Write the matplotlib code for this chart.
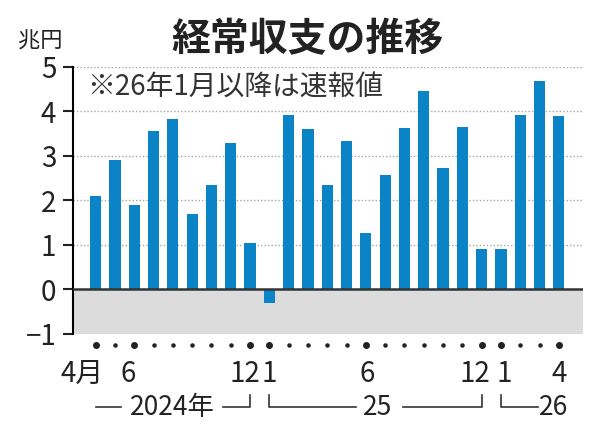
import numpy as np
import matplotlib.pyplot as plt
from matplotlib.transforms import blended_transform_factory

plt.rcParams['font.family'] = ['Noto Sans CJK JP', 'DejaVu Sans']

# monthly current account balance, trillion yen (Apr 2024 - Apr 2026)
years = [2024] * 9 + [2025] * 12 + [2026] * 4
months = list(range(4, 13)) + list(range(1, 13)) + list(range(1, 5))
values = [2.09, 2.91, 1.90, 3.56, 3.84, 1.70, 2.35, 3.30, 1.05,
          -0.30, 3.92, 3.61, 2.35, 3.33, 1.27, 2.58, 3.62, 4.45, 2.74, 3.66, 0.91,
          0.91, 3.92, 4.69, 3.90]
y_ticks = [-1, 0, 1, 2, 3, 4, 5]
y_labels = ['−1', '0', '1', '2', '3', '4', '5']

# labelled months: (year, month, text, shift)
month_marks = [(2024, 4, '4月', -0.7), (2024, 6, '6', -0.3), (2024, 12, '12', -0.25),
               (2025, 1, '1', 0.0), (2025, 6, '6', 0.05), (2025, 12, '12', -0.35),
               (2026, 1, '1', 0.15), (2026, 4, '4', 0.0)]

x = np.arange(len(values))

def idx(y, m):
    return [i for i in range(len(years)) if years[i] == y and months[i] == m][0]

fig = plt.figure(figsize=(6, 4.37), dpi=100)
ax = fig.add_axes([0.1217, 0.2357, 0.85, 0.611])

ax.axhspan(-1, 0, color='#dcdcdc', lw=0, zorder=0)
for g in range(1, 6):
    ax.axhline(g, color='#a5a5a5', lw=1, ls=(0, (1, 1.5)), zorder=1)
ax.bar(x, values, width=0.58, color='#0a84c6', zorder=3)
ax.axhline(0, color='#333333', lw=1.8, zorder=4)

ax.set_xlim(-1.17, 25.25)
ax.set_ylim(-1, 5)
for s in ['top', 'right', 'bottom']:
    ax.spines[s].set_visible(False)
ax.spines['left'].set_linewidth(1.5)
ax.set_xticks([])
ax.set_yticks(y_ticks)
ax.set_yticklabels(y_labels)
ax.tick_params(axis='y', length=7, width=1.5, pad=5, labelsize=20, colors='#222222')

trans = blended_transform_factory(ax.transData, fig.transFigure)

# dots under the axis
big = [idx(y, m) for y, m, t, s in month_marks]
small = [i for i in x if i not in big]
ax.scatter(x[big], [0.2105] * len(big), s=16, color='#222222', transform=trans, clip_on=False)
ax.scatter(x[small], [0.2105] * len(small), s=5, color='#222222', transform=trans, clip_on=False)

for y, m, t, s in month_marks:
    ax.text(idx(y, m) + s, 0.144, t, transform=trans, ha='center', va='center',
            fontsize=20, color='#222222')

# year brackets
yl = 0.0686
yt = 0.096
lc = '#333333'
i0, i1 = idx(2024, 4), idx(2024, 12)
ax.plot([i0, i0 + 1.3], [yl, yl], color=lc, lw=1.2, transform=trans, clip_on=False)
ax.plot([i1 - 1.4, i1, i1], [yl, yl, yt], color=lc, lw=1.2, transform=trans, clip_on=False)
ax.text(4.0, yl, '2024年', transform=trans, ha='center', va='center', fontsize=19, color='#222222')

j0, j1 = idx(2025, 1), idx(2025, 12)
ax.plot([j0, j0, j0 + 4.5], [yt, yl, yl], color=lc, lw=1.2, transform=trans, clip_on=False)
ax.plot([j1 - 4.1, j1, j1], [yl, yl, yt], color=lc, lw=1.2, transform=trans, clip_on=False)
ax.text(14.6, yl, '25', transform=trans, ha='center', va='center', fontsize=19, color='#222222')

k0 = idx(2026, 1)
ax.plot([k0, k0, k0 + 1.9], [yt, yl, yl], color=lc, lw=1.2, transform=trans, clip_on=False)
ax.text(k0 + 1.95, yl, '26', transform=trans, ha='left', va='center', fontsize=19, color='#222222')

# titles and notes
fig.text(0.513, 0.908, '経常収支の推移', ha='center', va='center', fontsize=28,
         fontweight='bold', color='#222222')
fig.text(0.067, 0.906, '兆円', ha='center', va='center', fontsize=16, color='#222222')
fig.text(0.145, 0.799, '※26年1月以降は速報値', ha='left', va='center', fontsize=20,
         color='#333333')

fig.savefig('out.png', dpi=100, facecolor='white')
